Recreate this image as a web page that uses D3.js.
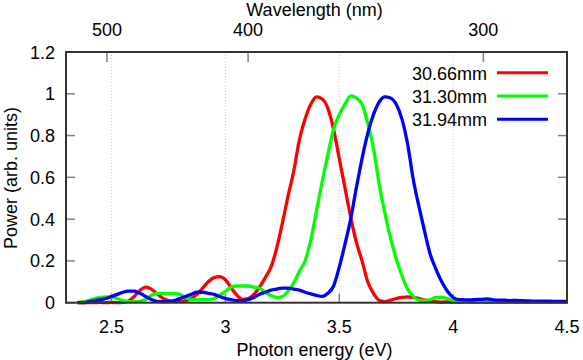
<!DOCTYPE html>
<html><head><meta charset="utf-8">
<script src="https://cdn.jsdelivr.net/npm/d3@7"></script>
<style>
html,body{margin:0;padding:0;background:#fff;}
text{font-family:"Liberation Sans",Arial,sans-serif;font-size:18px;fill:#000;}
</style></head>
<body><svg id="c" width="583" height="360"></svg>
<script>
// photon energy grid (eV)
const energy = [2.350,2.375,2.400,2.425,2.450,2.475,2.500,2.525,2.550,2.575,2.600,2.625,2.650,2.675,2.700,2.725,2.750,2.775,2.800,2.825,2.850,2.875,2.900,2.925,2.950,2.975,3.000,3.025,3.050,3.075,3.100,3.125,3.150,3.175,3.200,3.225,3.250,3.275,3.300,3.325,3.350,3.375,3.400,3.425,3.450,3.475,3.500,3.525,3.550,3.575,3.600,3.625,3.650,3.675,3.700,3.725,3.750,3.775,3.800,3.825,3.850,3.875,3.900,3.925,3.950,3.975,4.000,4.025,4.050,4.075,4.100,4.125,4.150,4.175,4.200,4.225,4.250,4.275,4.300,4.325,4.350,4.375,4.400,4.425,4.450,4.475,4.500];
const red30_66 = [0.000,0.000,0.000,0.000,0.002,0.000,0.002,0.000,0.002,0.008,0.030,0.060,0.075,0.065,0.042,0.022,0.010,0.005,0.006,0.010,0.020,0.040,0.070,0.100,0.120,0.125,0.110,0.072,0.036,0.016,0.020,0.040,0.075,0.120,0.170,0.260,0.380,0.510,0.630,0.780,0.880,0.950,0.985,0.975,0.930,0.830,0.690,0.550,0.410,0.290,0.200,0.100,0.045,0.012,0.005,0.012,0.020,0.025,0.028,0.025,0.020,0.012,0.008,0.005,0.003,0.004,0.003,0.002,0.004,0.003,0.002,0.004,0.003,0.002,0.003,0.002,0.004,0.002,0.003,0.002,0.003,0.002,0.003,0.002,0.003,0.002,0.002];
const green31_30 = [0.000,0.005,0.010,0.020,0.025,0.028,0.028,0.020,0.010,0.005,0.005,0.008,0.015,0.035,0.045,0.045,0.045,0.045,0.040,0.025,0.015,0.015,0.015,0.015,0.020,0.035,0.055,0.075,0.080,0.080,0.080,0.075,0.070,0.050,0.035,0.025,0.030,0.055,0.095,0.150,0.200,0.300,0.440,0.580,0.710,0.830,0.900,0.950,0.990,0.980,0.950,0.860,0.740,0.570,0.430,0.310,0.210,0.130,0.065,0.030,0.012,0.010,0.015,0.025,0.025,0.020,0.010,0.006,0.005,0.006,0.004,0.005,0.006,0.004,0.005,0.004,0.005,0.004,0.005,0.004,0.005,0.004,0.004,0.005,0.004,0.004,0.004];
const blue31_94 = [0.000,0.000,0.005,0.010,0.015,0.020,0.030,0.040,0.050,0.055,0.055,0.045,0.030,0.015,0.006,0.005,0.005,0.010,0.020,0.030,0.040,0.050,0.050,0.045,0.040,0.030,0.020,0.015,0.010,0.010,0.015,0.025,0.040,0.050,0.060,0.065,0.070,0.070,0.065,0.060,0.050,0.042,0.035,0.030,0.045,0.080,0.170,0.280,0.400,0.550,0.690,0.810,0.900,0.960,0.985,0.980,0.950,0.880,0.760,0.590,0.460,0.340,0.230,0.160,0.100,0.055,0.025,0.015,0.014,0.013,0.015,0.016,0.018,0.014,0.012,0.012,0.010,0.011,0.010,0.009,0.008,0.008,0.007,0.007,0.006,0.006,0.006];
const seriesNames = ["30.66mm","31.30mm","31.94mm"];
const seriesColors = ["#ff0000","#00ff00","#0000ff"];
const xTicks = [2.5,3,3.5,4,4.5];
const yTicks = [0,0.2,0.4,0.6,0.8,1,1.2];
const wlTicks = [500,400,300];

const svg = d3.select("#c");
const L=66,R=567,T=52,B=302.7;
const x = d3.scaleLinear().domain([2.3,4.5]).range([L,R]);
const y = d3.scaleLinear().domain([0,1.2]).range([B,T]);
const hc = 1239.84;

// grid
svg.append("g").selectAll("line").data(xTicks.filter(d=>d<4.5)).join("line")
  .attr("x1",d=>x(d)).attr("x2",d=>x(d)).attr("y1",T).attr("y2",B)
  .attr("stroke","#c8c8c8").attr("stroke-width",1).attr("stroke-dasharray","1,2");

// ticks (inward)
const tk = svg.append("g").attr("stroke","#808080").attr("stroke-width",1.5);
xTicks.forEach(d=>{ tk.append("line").attr("x1",x(d)).attr("x2",x(d)).attr("y1",B).attr("y2",B-9); });
wlTicks.forEach(d=>{ tk.append("line").attr("x1",x(hc/d)).attr("x2",x(hc/d)).attr("y1",T).attr("y2",T+10); });
yTicks.forEach(d=>{ tk.append("line").attr("x1",L).attr("x2",L+9).attr("y1",y(d)).attr("y2",y(d));
  tk.append("line").attr("x1",R).attr("x2",R-9).attr("y1",y(d)).attr("y2",y(d)); });

// curves
const allSeries = [red30_66, green31_30, blue31_94];
const line = d3.line().x(d=>x(d[0])).y(d=>y(d[1])).curve(d3.curveMonotoneX);
allSeries.forEach((s,i)=>{
  svg.append("path").datum(energy.map((e,j)=>[e,s[j]]))
    .attr("d",line).attr("fill","none").attr("stroke",seriesColors[i])
    .attr("stroke-width",3.3).attr("stroke-linejoin","round");
});

// frame
svg.append("rect").attr("x",L).attr("y",T).attr("width",R-L).attr("height",B-T)
  .attr("fill","none").attr("stroke","#333").attr("stroke-width",2);

// tick labels
svg.append("g").selectAll("text").data(xTicks).join("text")
  .attr("x",d=>x(d)).attr("y",333).attr("text-anchor","middle").text(d=>d3.format("")(d));
svg.append("g").selectAll("text").data(yTicks).join("text")
  .attr("x",55).attr("y",d=>y(d)+6.5).attr("text-anchor","end").text(d=>String(d));
svg.append("g").selectAll("text").data(wlTicks).join("text")
  .attr("x",d=>x(hc/d)).attr("y",36).attr("text-anchor","middle").text(d=>d);

// axis titles
svg.append("text").attr("x",314.5).attr("y",356).attr("text-anchor","middle").text("Photon energy (eV)");
svg.append("text").attr("x",314.5).attr("y",16).attr("text-anchor","middle").text("Wavelength (nm)");
svg.append("text").attr("transform","translate(16.5,178) rotate(-90)").attr("text-anchor","middle").text("Power (arb. units)");

// legend
seriesNames.forEach((n,i)=>{
  const yy = 72.7 + i*23.3;
  svg.append("text").attr("x",487).attr("y",yy+6.8).attr("text-anchor","end").text(n);
  svg.append("line").attr("x1",497).attr("x2",548).attr("y1",yy).attr("y2",yy)
    .attr("stroke",seriesColors[i]).attr("stroke-width",3);
});
</script></body></html>
